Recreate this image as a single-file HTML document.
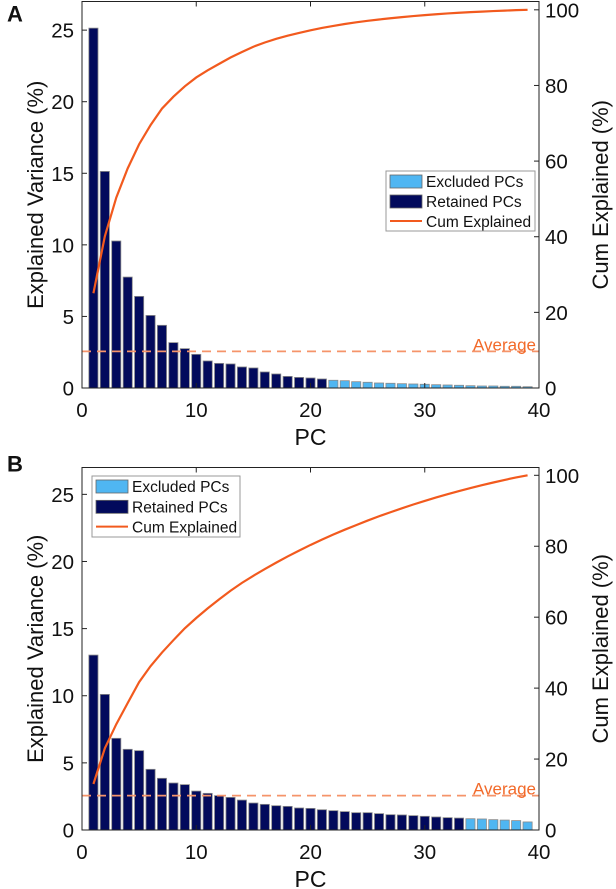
<!DOCTYPE html>
<html><head><meta charset="utf-8"><style>
html,body{margin:0;padding:0;background:#fff;}
svg{display:block;font-family:"Liberation Sans",Arial,sans-serif;}
</style></head><body>
<svg id="chart" width="616" height="889" viewBox="0 0 616 889"></svg>
<script>
// Panel A data
const pcsA = [1,2,3,4,5,6,7,8,9,10,11,12,13,14,15,16,17,18,19,20,21,22,23,24,25,26,27,28,29,30,31,32,33,34,35,36,37,38,39];
const varA = [25.14,15.13,10.27,7.75,6.40,5.07,4.38,3.17,2.75,2.35,1.89,1.72,1.68,1.47,1.40,1.12,0.98,0.81,0.74,0.70,0.63,0.54,0.51,0.44,0.40,0.35,0.33,0.30,0.28,0.26,0.23,0.21,0.19,0.16,0.14,0.14,0.12,0.12,0.09];
const retainedA = 21;
// Panel B data
const pcsB = [1,2,3,4,5,6,7,8,9,10,11,12,13,14,15,16,17,18,19,20,21,22,23,24,25,26,27,28,29,30,31,32,33,34,35,36,37,38,39];
const varB = [13.03,10.10,6.83,6.01,5.91,4.52,3.85,3.50,3.38,2.90,2.73,2.56,2.43,2.23,2.01,1.91,1.81,1.76,1.64,1.61,1.51,1.44,1.37,1.29,1.29,1.22,1.14,1.12,1.07,1.02,0.97,0.92,0.89,0.84,0.82,0.77,0.74,0.70,0.60];
const retainedB = 33;
const avgValue = 2.56;
const xTicks = [0,10,20,30,40];
const yTicks = [0,5,10,15,20,25];
const y2Ticks = [0,20,40,60,80,100];
const legendLabels = ["Excluded PCs","Retained PCs","Cum Explained"];

const NS="http://www.w3.org/2000/svg";
const svg=document.getElementById('chart');
function mk(tag,attrs,parent,text){const e=document.createElementNS(NS,tag);for(const k in attrs)e.setAttribute(k,attrs[k]);if(text!==undefined)e.textContent=text;(parent||svg).appendChild(e);return e;}

function panel(id,pcs,vals,retained,top,bottom,legendPos){
  const L=82,R=539;
  const g=mk('g',{});
  
  
  const xs=v=>L+(v/40)*(R-L);
  const ys=v=>bottom-(v/27)*(bottom-top);
  const y2=v=>bottom-(v/102.2)*(bottom-top);
  pcs.forEach((p,i)=>{
    const r=mk('rect',{x:xs(p-0.4),y:ys(vals[i]),width:xs(0.8)-xs(0),height:bottom-ys(vals[i]),fill:i<retained?'#020a5c':'#4fb6f2',stroke:'#8a8a8a','stroke-width':0.8},g);
    
    
  });
  const av=mk('line',{x1:L,x2:R,y1:ys(avgValue),y2:ys(avgValue),stroke:'#f5946a','stroke-width':1.8,'stroke-dasharray':'9,6'},g);
  
  
  const avt=mk('text',{x:R-3,y:ys(avgValue)-1,'text-anchor':'end','font-size':17,fill:'#f26a2a'},g,'Average');
  
  
  const total=vals.reduce((a,b)=>a+b,0);
  let c=0;const pts=pcs.map((p,i)=>{c+=vals[i];return xs(p)+','+y2(c/total*100);});
  const cl=mk('polyline',{points:pts.join(' '),fill:'none',stroke:'#f25a1e','stroke-width':2.2},g);
  
  
  const box=mk('rect',{x:L,y:top,width:R-L,height:bottom-top,fill:'none',stroke:'#222','stroke-width':1},g);
  
  
  xTicks.forEach(t=>{
    mk('line',{x1:xs(t),x2:xs(t),y1:bottom,y2:bottom-5,stroke:'#222'},g);
    mk('line',{x1:xs(t),x2:xs(t),y1:top,y2:top+5,stroke:'#222'},g);
    const tx=mk('text',{x:xs(t),y:bottom+29,'text-anchor':'middle','font-size':20.5,fill:'#111'},g,t);
    
    
  });
  yTicks.forEach(t=>{
    mk('line',{x1:L,x2:L+5,y1:ys(t),y2:ys(t),stroke:'#222'},g);
    const tx=mk('text',{x:L-8,y:ys(t)+7.5,'text-anchor':'end','font-size':20.5,fill:'#111'},g,t);
    
    
  });
  y2Ticks.forEach(t=>{
    mk('line',{x1:R,x2:R-5,y1:y2(t),y2:y2(t),stroke:'#222'},g);
    const tx=mk('text',{x:R+6,y:y2(t)+7.5,'text-anchor':'start','font-size':20.5,fill:'#111'},g,t);
    
    
  });
  const xl=mk('text',{x:(L+R)/2,y:bottom+57,'text-anchor':'middle','font-size':23,fill:'#111'},g,'PC');
  
  
  const cy=(top+bottom)/2;
  const yl=mk('text',{x:0,y:0,transform:`translate(43,${cy}) rotate(-90)`,'text-anchor':'middle','font-size':22,fill:'#111'},g,'Explained Variance (%)');
  
  
  const y2l=mk('text',{x:0,y:0,transform:`translate(608,${cy}) rotate(-90)`,'text-anchor':'middle','font-size':22,fill:'#111'},g,'Cum Explained (%)');
  
  
  const pl=mk('text',{x:7,y:top+(id==='A'?20:4),'font-size':22,'font-weight':'bold',fill:'#111'},g,id);
  
  
  const [lx,ly,lw,lh]=legendPos;
  const lg=mk('g',{},g);
  
  
  mk('rect',{x:lx,y:ly,width:lw,height:lh,fill:'#fff',stroke:'#999','stroke-width':1},lg);
  const rowH=lh/3;
  mk('rect',{x:lx+4,y:ly+4,width:32,height:13,fill:'#4fb6f2',stroke:'#666','stroke-width':0.8},lg);
  mk('rect',{x:lx+4,y:ly+4+rowH,width:32,height:13,fill:'#020a5c',stroke:'#666','stroke-width':0.8},lg);
  mk('line',{x1:lx+4,x2:lx+36,y1:ly+10+2*rowH,y2:ly+10+2*rowH,stroke:'#f25a1e','stroke-width':2},lg);
  legendLabels.forEach((t,i)=>{
    const le=mk('text',{x:lx+40,y:ly+16+i*rowH,'font-size':15.5,fill:'#111'},lg,t);
    
    
  });
}
panel('A',pcsA,varA,retainedA,1.5,388,[386,171,149,60]);
panel('B',pcsB,varB,retainedB,467.5,830,[92,476,148,61]);
</script>
</body></html>
